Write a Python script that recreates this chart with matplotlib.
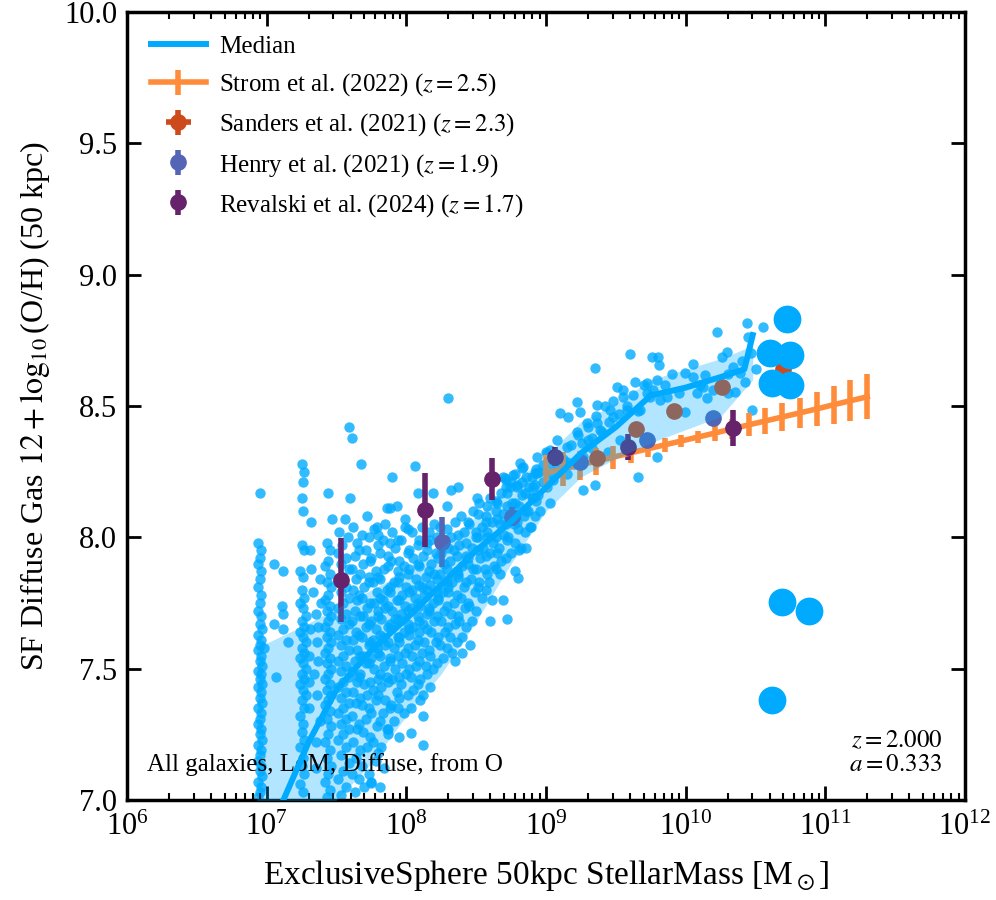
import numpy as np
import matplotlib
matplotlib.use("Agg")
import matplotlib.pyplot as plt
from matplotlib.ticker import (NullLocator, FixedLocator, FormatStrFormatter, NullFormatter,
                               LogFormatterSciNotation)

plt.rcParams['font.family'] = ['Liberation Serif', 'STIXGeneral', 'DejaVu Serif']
plt.rcParams['mathtext.fontset'] = 'stix'

# ---------------- data (log10 stellar mass, 12+log(O/H)) ----------------
gal_col1 = [(6.95,8.17),(6.94,7.98),(6.96,7.95),(6.95,7.92),(6.94,7.90),(6.96,7.87),(6.95,7.84),(6.94,7.81),
            (6.96,7.78),(6.95,7.75),(6.94,7.72),(6.96,7.70),(6.95,7.67),(6.97,7.65),(6.94,7.63),(6.96,7.61),
            (6.95,7.59),(6.98,7.58),(6.94,7.57),(6.96,7.55),(6.95,7.53),(6.97,7.51),(6.94,7.49),(6.96,7.48),
            (6.95,7.46),(6.97,7.44),(6.94,7.43),(6.96,7.41),(6.95,7.39),(6.97,7.37),(6.94,7.35),(6.96,7.33),
            (6.95,7.31),(6.94,7.29),(6.96,7.27),(6.95,7.25),(6.97,7.23),(6.94,7.21),(6.96,7.19),(6.95,7.17),
            (6.94,7.15),(6.96,7.13),(6.95,7.11),(6.97,7.09),(6.94,7.07),(6.96,7.05),(6.95,7.03),(6.94,7.01)]
gal_col2 = [(7.25,8.28),(7.27,8.25),(7.26,8.21),(7.25,8.15),(7.26,8.10),(7.32,8.06),(7.25,7.97),(7.27,7.95),
            (7.24,7.87),(7.26,7.85),(7.25,7.80),(7.27,7.77),(7.24,7.75),(7.26,7.73),(7.28,7.70),(7.25,7.68),
            (7.27,7.66),(7.24,7.64),(7.26,7.62),(7.28,7.60),(7.25,7.58),(7.27,7.56),(7.24,7.54),(7.26,7.52),
            (7.28,7.50),(7.25,7.48),(7.27,7.46),(7.24,7.44),(7.26,7.42),(7.28,7.40),(7.25,7.38),(7.27,7.35),
            (7.24,7.32),(7.26,7.29),(7.25,7.26),(7.27,7.23),(7.24,7.20),(7.26,7.16),(7.25,7.13),(7.27,7.10),
            (7.24,7.06),(7.26,7.03),(7.30,7.55),(7.30,7.45),(7.31,7.65),(7.30,7.35)]
gal_between = [(7.05,7.90),(7.12,7.87),(7.11,7.74),(7.12,7.71),(7.05,7.67),(7.12,7.65),(7.07,7.47),(7.15,7.60),
               (7.31,7.95),(7.32,7.88),(7.33,7.79),(7.35,7.71),(7.37,7.66),(7.36,7.60),(7.37,7.53),(7.34,7.48),
               (7.36,7.40),(7.38,7.30),(7.35,7.22),(7.38,7.84),(7.39,7.75),(7.35,7.12)]
gal_col3 = [(7.44,8.17),(7.47,8.07),(7.43,7.98),(7.45,7.95),(7.44,7.91),(7.42,7.89),(7.45,7.86),(7.43,7.83),
            (7.46,7.81),(7.44,7.78),(7.42,7.76),(7.45,7.74),(7.43,7.72),(7.46,7.70),(7.44,7.68),(7.42,7.66),
            (7.45,7.64),(7.43,7.62),(7.46,7.60),(7.44,7.58),(7.42,7.56),(7.45,7.54),(7.43,7.52),(7.46,7.50),
            (7.44,7.48),(7.42,7.46),(7.45,7.44),(7.43,7.42),(7.46,7.40),(7.44,7.38),(7.42,7.36),(7.45,7.34),
            (7.43,7.31),(7.46,7.28),(7.44,7.25),(7.42,7.22),(7.45,7.19),(7.43,7.16),(7.46,7.13),(7.44,7.10),
            (7.42,7.07),(7.45,7.04),(7.43,7.01)]
gal_col4 = [(7.56,8.07),(7.52,8.02),(7.58,8.00),(7.54,7.97),(7.51,7.94),(7.57,7.92),(7.53,7.90),(7.59,7.88),
            (7.55,7.85),(7.51,7.83),(7.57,7.81),(7.53,7.79),(7.59,7.77),(7.55,7.75),(7.51,7.73),(7.57,7.71),
            (7.53,7.69),(7.59,7.67),(7.55,7.65),(7.51,7.63),(7.57,7.61),(7.53,7.59),(7.59,7.57),(7.55,7.55),
            (7.51,7.53),(7.57,7.51),(7.53,7.49),(7.59,7.47),(7.55,7.45),(7.51,7.43),(7.57,7.41),(7.53,7.39),
            (7.59,7.37),(7.55,7.35),(7.51,7.33),(7.57,7.31),(7.53,7.29),(7.59,7.27),(7.55,7.25),(7.51,7.23),
            (7.57,7.20),(7.53,7.17),(7.59,7.14),(7.55,7.11),(7.51,7.08),(7.57,7.05),(7.53,7.02)]
gal_cloud = [
    (7.63,7.03),(7.61,7.10),(7.64,7.16),(7.62,7.22),(7.65,7.27),(7.61,7.32),(7.64,7.37),(7.62,7.41),(7.65,7.45),
    (7.61,7.49),(7.63,7.53),(7.65,7.57),(7.62,7.61),(7.64,7.64),(7.61,7.68),(7.63,7.72),(7.65,7.76),(7.62,7.80),
    (7.64,7.84),(7.61,7.88),(7.63,7.93),(7.65,7.98),(7.62,8.04),
    (7.70,7.05),(7.68,7.13),(7.72,7.20),(7.69,7.26),(7.71,7.31),(7.68,7.36),(7.72,7.40),(7.70,7.44),(7.67,7.48),
    (7.71,7.52),(7.69,7.55),(7.73,7.59),(7.68,7.62),(7.71,7.66),(7.69,7.70),(7.72,7.73),(7.68,7.77),(7.70,7.81),
    (7.73,7.85),(7.69,7.90),(7.71,7.95),(7.68,8.01),(7.72,8.08),
    (7.75,7.07),(7.78,7.15),(7.76,7.22),(7.79,7.28),(7.75,7.33),(7.78,7.38),(7.76,7.42),(7.80,7.46),(7.77,7.50),
    (7.75,7.54),(7.79,7.58),(7.76,7.61),(7.78,7.65),(7.75,7.68),(7.80,7.72),(7.77,7.75),(7.79,7.79),(7.76,7.83),
    (7.78,7.87),(7.75,7.92),(7.80,7.97),(7.77,8.03),
    (7.84,7.12),(7.82,7.20),(7.86,7.27),(7.83,7.33),(7.85,7.38),(7.82,7.43),(7.86,7.47),(7.84,7.51),(7.81,7.55),
    (7.85,7.59),(7.83,7.62),(7.87,7.66),(7.82,7.69),(7.85,7.73),(7.83,7.76),(7.86,7.80),(7.81,7.84),(7.84,7.88),
    (7.87,7.93),(7.83,7.99),(7.85,8.05),
    (7.91,7.30),(7.89,7.36),(7.93,7.41),(7.90,7.46),(7.92,7.50),(7.88,7.54),(7.91,7.58),(7.94,7.62),(7.89,7.65),
    (7.92,7.69),(7.90,7.72),(7.93,7.76),(7.88,7.79),(7.91,7.83),(7.94,7.87),(7.89,7.91),(7.92,7.96),(7.90,8.02),
    (7.98,7.33),(7.96,7.44),(8.00,7.48),(7.97,7.52),(7.99,7.56),(7.95,7.60),(7.98,7.64),(8.01,7.67),(7.96,7.71),
    (7.99,7.74),(7.97,7.78),(8.00,7.81),(7.95,7.85),(7.98,7.89),(8.01,7.94),(7.96,7.99),(7.99,8.04),
    (8.05,7.42),(8.03,7.47),(8.07,7.51),(8.04,7.55),(8.06,7.59),(8.02,7.63),(8.05,7.66),(8.08,7.70),(8.03,7.73),
    (8.06,7.77),(8.04,7.80),(8.07,7.84),(8.02,7.88),(8.05,7.92),(8.08,7.97),(8.04,8.02),
    (8.12,7.40),(8.10,7.46),(8.14,7.51),(8.11,7.56),(8.13,7.60),(8.09,7.64),(8.12,7.67),(8.15,7.71),(8.10,7.74),
    (8.13,7.78),(8.11,7.81),(8.14,7.85),(8.09,7.89),(8.12,7.93),(8.15,7.98),(8.11,8.04),
    (8.19,7.50),(8.17,7.55),(8.21,7.60),(8.18,7.64),(8.20,7.68),(8.16,7.72),(8.19,7.75),(8.22,7.79),(8.17,7.82),
    (8.20,7.86),(8.18,7.90),(8.21,7.94),(8.17,7.99),(8.20,8.05),
    (8.26,7.54),(8.24,7.59),(8.28,7.64),(8.25,7.68),(8.27,7.72),(8.23,7.76),(8.26,7.79),(8.29,7.83),(8.24,7.86),
    (8.27,7.90),(8.25,7.94),(8.28,7.99),(8.24,8.04),
    (8.33,7.56),(8.31,7.62),(8.35,7.67),(8.32,7.71),(8.34,7.75),(8.30,7.79),(8.33,7.83),(8.36,7.87),(8.31,7.91),
    (8.34,7.95),(8.32,8.00),(8.35,8.06),
    (8.40,7.62),(8.38,7.68),(8.42,7.73),(8.39,7.77),(8.41,7.81),(8.37,7.85),(8.40,7.89),(8.43,7.93),(8.38,7.97),
    (8.41,8.02),(8.39,8.08),
    (8.47,7.68),(8.45,7.74),(8.49,7.79),(8.46,7.84),(8.48,7.88),(8.44,7.92),(8.47,7.96),(8.50,8.00),(8.45,8.05),
    (8.48,8.10),
    (8.54,7.77),(8.52,7.83),(8.56,7.88),(8.53,7.92),(8.55,7.96),(8.51,8.00),(8.54,8.04),(8.57,8.08),(8.52,8.13),
    (8.61,7.76),(8.59,7.83),(8.63,7.89),(8.60,7.94),(8.62,7.98),(8.58,8.02),(8.61,8.06),(8.64,8.10),(8.60,8.15),
    (8.68,7.91),(8.66,7.96),(8.70,8.01),(8.67,8.05),(8.69,8.09),(8.65,8.13),(8.68,8.17),(8.71,8.22),
    (8.75,7.94),(8.73,8.00),(8.77,8.05),(8.74,8.09),(8.76,8.13),(8.72,8.17),(8.75,8.21),
    (8.82,7.96),(8.80,8.03),(8.84,8.08),(8.81,8.12),(8.83,8.16),(8.79,8.20),
    (8.89,8.04),(8.87,8.10),(8.91,8.15),(8.88,8.19),(8.90,8.23),
    (8.96,8.10),(8.94,8.16),(8.98,8.21),(8.95,8.25),(9.03,8.13),(9.01,8.19),(9.04,8.24),(9.02,8.28)]
gal_cloud_fill = [
    (7.66,7.08),(7.67,7.19),(7.66,7.29),(7.67,7.39),(7.66,7.47),(7.67,7.55),(7.66,7.63),(7.67,7.70),(7.66,7.78),
    (7.67,7.86),(7.66,7.95),
    (7.73,7.10),(7.74,7.24),(7.73,7.35),(7.74,7.45),(7.73,7.52),(7.74,7.60),(7.73,7.67),(7.74,7.75),(7.73,7.83),
    (7.74,7.91),(7.73,8.00),
    (7.80,7.18),(7.81,7.30),(7.80,7.40),(7.81,7.48),(7.80,7.56),(7.81,7.63),(7.80,7.70),(7.81,7.77),(7.80,7.85),
    (7.81,7.94),(7.80,8.01),
    (7.87,7.25),(7.88,7.35),(7.87,7.45),(7.88,7.53),(7.87,7.60),(7.88,7.67),(7.87,7.74),(7.88,7.81),(7.87,7.89),
    (7.88,7.98),
    (7.94,7.35),(7.95,7.47),(7.94,7.55),(7.95,7.62),(7.94,7.69),(7.95,7.76),(7.94,7.83),(7.95,7.91),(7.94,7.99),
    (8.01,7.40),(8.02,7.50),(8.01,7.58),(8.02,7.65),(8.01,7.72),(8.02,7.79),(8.01,7.86),(8.02,7.95),(8.01,8.03),
    (8.08,7.44),(8.09,7.53),(8.08,7.61),(8.09,7.68),(8.08,7.75),(8.09,7.82),(8.08,7.90),(8.09,7.99),
    (8.15,7.48),(8.16,7.57),(8.15,7.65),(8.16,7.73),(8.15,7.80),(8.16,7.87),(8.15,7.95),(8.16,8.02),
    (8.22,7.52),(8.23,7.62),(8.22,7.70),(8.23,7.77),(8.22,7.84),(8.23,7.92),(8.22,8.00),
    (8.29,7.58),(8.30,7.66),(8.29,7.74),(8.30,7.81),(8.29,7.88),(8.30,7.96),(8.29,8.03),
    (8.36,7.60),(8.37,7.70),(8.36,7.78),(8.37,7.86),(8.36,7.93),(8.37,8.01),
    (8.43,7.66),(8.44,7.75),(8.43,7.83),(8.44,7.90),(8.43,7.98),(8.44,8.06),
    (8.50,7.72),(8.51,7.81),(8.50,7.88),(8.51,7.95),(8.50,8.02),(8.51,8.09),
    (8.57,7.80),(8.58,7.86),(8.57,7.93),(8.58,8.00),(8.57,8.06),(8.58,8.12),
    (8.64,7.88),(8.65,7.94),(8.64,8.00),(8.65,8.07),(8.64,8.14),
    (8.71,7.92),(8.72,7.99),(8.71,8.05),(8.72,8.12),(8.71,8.19),
    (8.78,7.98),(8.79,8.06),(8.78,8.13),(8.79,8.19),
    (8.85,8.02),(8.86,8.10),(8.85,8.17),(8.86,8.23),
    (8.92,8.08),(8.93,8.14),(8.92,8.20),(8.93,8.26)]
gal_outer = [(7.59,8.42),(7.61,8.38),(7.675,8.28),(7.60,8.15),(7.90,8.23),(8.06,8.27),(7.86,8.11),(7.93,8.12),
             (7.99,8.07),(8.08,8.17),(8.19,8.17),(8.29,8.12),(8.32,8.18),(8.37,8.19),(8.505,8.15),(8.30,8.53),
             (8.69,8.23),(8.78,8.24),(8.83,8.265),(8.92,8.245),(9.00,8.325),(7.79,8.04),(7.88,8.11),
             (7.75,7.065),(7.81,7.05),(7.87,7.27),(7.95,7.24),(8.03,7.255),(8.12,7.21),(8.12,7.32),(8.03,7.35),
             (7.95,7.39),(8.10,7.38),(8.17,7.43),(8.35,7.53),(8.40,7.56),(8.455,7.59),(8.60,7.68),(8.72,7.69),
             (8.69,7.76),(8.80,7.845),(8.78,7.87),(8.67,7.86),(8.86,7.96),(8.81,7.95),(8.885,8.04)]
gal_high = [(8.706,8.226),(8.763,8.237),(8.835,8.268),(8.828,8.211),(8.935,8.245),(8.906,8.192),(8.978,8.276),
            (9.006,8.321),(9.10,8.473),(9.157,8.458),(9.221,8.515),(9.243,8.477),(9.364,8.504),(9.350,8.645),
            (9.507,8.573),(9.60,8.698),(9.758,8.687),(9.80,8.687),(9.808,8.656),(9.636,8.592),(9.722,8.588),
            (9.765,8.561),(9.794,8.599),(9.815,8.523),(9.865,8.534),(9.994,8.626),(10.052,8.611),(10.137,8.618),
            (10.152,8.531),(10.223,8.782),(10.259,8.687),(10.295,8.706),(10.338,8.649),(10.388,8.626),
            (10.438,8.816),(10.553,8.801),(10.445,8.763),(10.424,8.592),(10.474,8.485),(9.794,8.306),
            (9.658,8.230),(9.457,8.485),(9.479,8.458),(9.386,8.409),(9.264,8.180),(9.350,8.199),(9.150,8.344),
            (9.078,8.371),(9.228,8.390),(9.30,8.371),(9.329,8.340),(9.150,8.287),(8.935,8.306),(8.813,8.283),
            (8.742,8.192),(8.899,8.154),(9.443,8.325),(9.529,8.371),(9.672,8.485),(9.744,8.534),(9.908,8.485),
            (9.994,8.477),(10.08,8.550),(10.195,8.561),(10.123,8.573),(10.302,8.550),(10.352,8.554),
            (9.579,8.485),(9.55,8.534),(9.722,8.550),(9.364,8.436),(9.293,8.436),(9.028,8.333),(9.264,8.306),
            (9.05,8.22),(9.08,8.26),(9.12,8.30),(9.15,8.24),(9.18,8.35),(9.20,8.28),(9.22,8.40),(9.26,8.36),
            (9.30,8.42),(9.33,8.38),(9.36,8.46),(9.40,8.40),(9.42,8.50),(9.45,8.44),(9.48,8.52),(9.52,8.47),
            (9.55,8.56),(9.58,8.50),(9.62,8.54),(9.66,8.48),(9.70,8.58),(9.85,8.58),(9.90,8.62),(9.95,8.55),
            (10.05,8.66),(10.10,8.58),(10.30,8.62),(10.40,8.67),(10.47,8.70),(10.50,8.64)]
gal_big = [(10.724,8.831),(10.603,8.702),(10.746,8.694),(10.617,8.588),(10.746,8.580),
           (10.689,7.754),(10.882,7.720),(10.617,7.381)]

median_logm = [7.00, 7.12, 7.30, 7.50, 7.75, 8.00, 8.25, 8.50, 8.75, 9.00, 9.25, 9.50, 9.75, 10.00, 10.25, 10.42, 10.48]
median_z    = [6.88, 7.00, 7.22, 7.42, 7.57, 7.69, 7.82, 7.95, 8.06, 8.19, 8.32, 8.42, 8.54, 8.57, 8.61, 8.64, 8.77]
band_logm  = [6.93, 7.25, 7.50, 7.75, 8.00, 8.25, 8.50, 8.75, 9.00, 9.25, 9.50, 9.75, 10.00, 10.25, 10.48]
band_lower = [6.80, 6.90, 7.00, 7.14, 7.32, 7.48, 7.68, 7.90, 8.10, 8.23, 8.30, 8.36, 8.41, 8.46, 8.60]
band_upper = [7.58, 7.66, 7.73, 7.80, 7.87, 7.96, 8.08, 8.20, 8.31, 8.44, 8.51, 8.60, 8.64, 8.68, 8.73]

strom_logm = [9.00, 9.12, 9.24, 9.36, 9.48, 9.61, 9.73, 9.85, 9.97, 10.09, 10.21, 10.33, 10.45, 10.57,
              10.69, 10.82, 10.94, 11.06, 11.18, 11.30]
strom_z = [8.245, 8.260, 8.275, 8.290, 8.305, 8.322, 8.337, 8.352, 8.367, 8.382, 8.397, 8.413, 8.428, 8.443,
           8.458, 8.474, 8.489, 8.505, 8.520, 8.535]
strom_err = [0.067, 0.063, 0.055, 0.051, 0.044, 0.038, 0.033, 0.027, 0.023, 0.023, 0.030, 0.038, 0.044, 0.048,
             0.054, 0.057, 0.065, 0.073, 0.078, 0.086]

sanders_logm = [9.364, 9.644, 9.916, 10.259, 10.70]
sanders_z = [8.302, 8.413, 8.481, 8.572, 8.64]
sanders_xerr = [0.05, 0.05, 0.05, 0.05, 0.05]
sanders_yerr = [0.02, 0.02, 0.02, 0.02, 0.02]

henry_logm = [8.255, 8.756, 9.243, 9.722, 10.195]
henry_z = [7.983, 8.078, 8.287, 8.371, 8.455]
henry_err = [0.095, 0.036, 0.02, 0.02, 0.02]

revalski_logm = [7.532, 8.133, 8.613, 9.064, 9.586, 10.338]
revalski_z = [7.838, 8.104, 8.222, 8.306, 8.344, 8.416]
revalski_err = [0.16, 0.139, 0.08, 0.036, 0.048, 0.067]

x_major_ticks = [1e6, 1e7, 1e8, 1e9, 1e10, 1e11, 1e12]
y_major_ticks = [7.0, 7.5, 8.0, 8.5, 9.0, 9.5, 10.0]

# ---------------- styles ----------------
c_sim = '#00aaff'
c_strom = '#ff8c3a'
c_sanders = '#cc4a1c'
c_henry = '#5565b5'
c_rev = '#66226a'

fig = plt.figure(figsize=(9.96, 9.0), dpi=100)
ax = fig.add_axes([0.1275, 0.1111, 0.8414, 0.8756])

small = gal_col1 + gal_col2 + gal_between + gal_col3 + gal_col4 + gal_cloud + gal_cloud_fill + gal_outer + gal_high
sm = np.array(small)
ax.scatter(10**sm[:, 0], sm[:, 1], s=56, color=c_sim, alpha=0.8, linewidths=0, zorder=1)
bg = np.array(gal_big)
ax.scatter(10**bg[:, 0], bg[:, 1], s=400, color=c_sim, alpha=1.0, linewidths=0, zorder=5)

h_strom = ax.errorbar(10**np.array(strom_logm), strom_z, yerr=strom_err, fmt='-', color=c_strom,
                      lw=4, elinewidth=4, capsize=0, zorder=2, label=r'Strom et al. (2022) ($z = 2.5$)')
h_sand = ax.errorbar(10**np.array(sanders_logm), sanders_z,
                     xerr=[10**np.array(sanders_logm) * (1 - 10**-np.array(sanders_xerr)),
                           10**np.array(sanders_logm) * (10**np.array(sanders_xerr) - 1)],
                     yerr=sanders_yerr, fmt='o', ms=11, color=c_sanders, elinewidth=4, capsize=0, zorder=2,
                     label=r'Sanders et al. (2021) ($z = 2.3$)')
h_henry = ax.errorbar(10**np.array(henry_logm), henry_z, yerr=henry_err, fmt='o', ms=11, color=c_henry,
                      elinewidth=4, capsize=0, zorder=2, label=r'Henry et al. (2021) ($z = 1.9$)')
h_rev = ax.errorbar(10**np.array(revalski_logm), revalski_z, yerr=revalski_err, fmt='o', ms=11, color=c_rev,
                    elinewidth=4, capsize=0, zorder=2, label=r'Revalski et al. (2024) ($z = 1.7$)')

ax.fill_between(10**np.array(band_logm), band_lower, band_upper, color=c_sim, alpha=0.3, linewidth=0, zorder=3)
h_med, = ax.plot(10**np.array(median_logm), median_z, color=c_sim, lw=4.3, zorder=4, label='Median')

ax.set_xscale('log')
ax.set_xlim(1e6, 1e12)
ax.set_ylim(7.0, 10.0)
minor_x = [m * d for d in x_major_ticks[:-1] for m in range(2, 10)]
ax.xaxis.set_major_locator(FixedLocator(x_major_ticks))
ax.xaxis.set_major_formatter(LogFormatterSciNotation())
ax.xaxis.set_minor_locator(FixedLocator(minor_x))
ax.xaxis.set_minor_formatter(NullFormatter())
ax.yaxis.set_major_locator(FixedLocator(y_major_ticks))
ax.yaxis.set_major_formatter(FormatStrFormatter('%.1f'))
ax.yaxis.set_minor_locator(NullLocator())

ax.tick_params(which='both', direction='in', top=True, right=True, labelsize=22)
ax.tick_params(which='major', length=10, width=2)
ax.tick_params(which='minor', length=5, width=1.5)
ax.tick_params(axis='x', which='major', pad=9)
ax.tick_params(axis='y', which='major', pad=7)
for sp in ax.spines.values():
    sp.set_linewidth(2.5)

ax.set_xlabel(r'ExclusiveSphere 50kpc StellarMass [M$_\odot$]', fontsize=24, labelpad=12)
ax.set_ylabel(r'SF Diffuse Gas $12 + \log_{10}$(O/H) (50 kpc)', fontsize=23, labelpad=9)

ax.legend(handles=[h_med, h_strom, h_sand, h_henry, h_rev], loc='upper left', frameon=False, fontsize=18,
          handlelength=2.2, labelspacing=0.53, borderaxespad=0.55, handletextpad=0.55)

ax.text(0.024, 0.03, 'All galaxies, LoM, Diffuse, from O', transform=ax.transAxes, fontsize=18,
        ha='left', va='bottom')
ax.text(0.973, 0.03, '$z = 2.000$\n$a = 0.333$', transform=ax.transAxes, fontsize=18,
        ha='right', va='bottom', multialignment='right', linespacing=1.15)

fig.savefig('out.png', dpi=100)
